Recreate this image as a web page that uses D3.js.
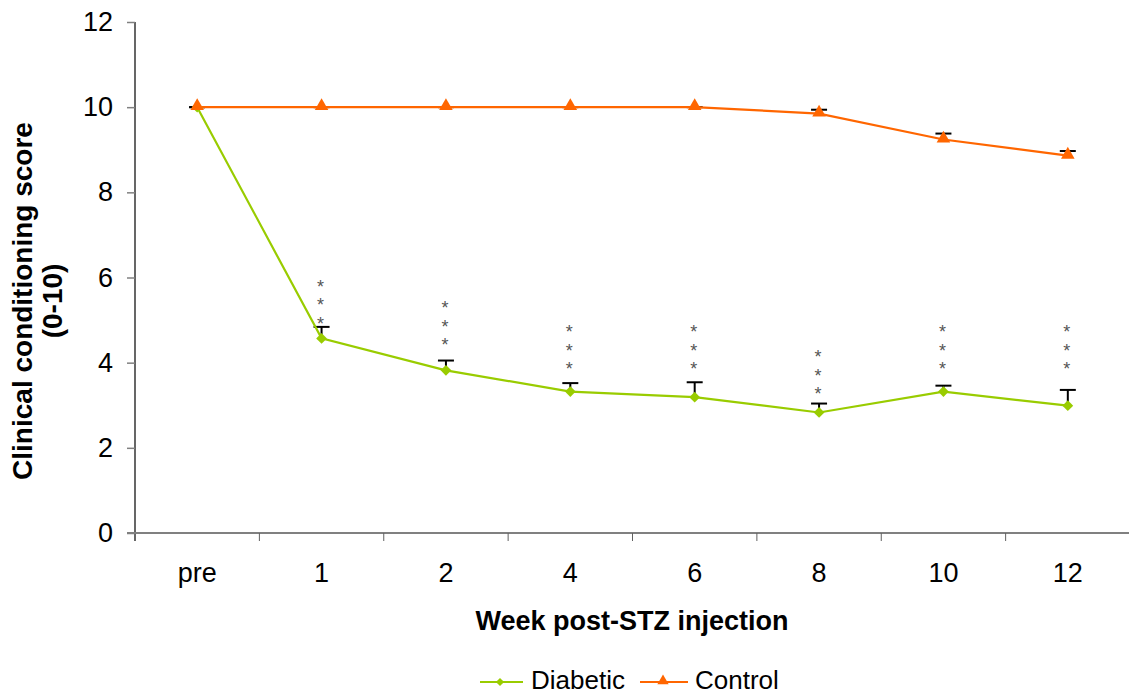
<!DOCTYPE html>
<html><head><meta charset="utf-8">
<script src="https://cdn.jsdelivr.net/npm/d3@7"></script>
<style>body{margin:0;background:#fff}svg{display:block;font-family:"Liberation Sans",Arial,sans-serif}</style>
</head><body><svg id="c" width="1129" height="695"></svg>
<script>
const categories = ["pre","1","2","4","6","8","10","12"];
const diabetic = [10, 4.57, 3.82, 3.32, 3.19, 2.83, 3.32, 2.99];
const diabeticErrTop = [10, 4.84, 4.05, 3.52, 3.54, 3.04, 3.46, 3.36];
const control = [10, 10, 10, 10, 10, 9.85, 9.24, 8.86];
const controlErrTop = [10, 10, 10, 10, 10, 9.94, 9.38, 8.97];
const starBase = [null, 5.02, 4.51, 3.95, 3.95, 3.36, 3.95, 3.95];
const yTicks = [0, 2, 4, 6, 8, 10, 12];

const green = "#99CC00", orange = "#FF6600";
const svg = d3.select("#c");
const L = 135, R = 1130, T = 22, B = 533;
const x = d3.scaleBand().domain(categories).range([L, R]).paddingInner(0).paddingOuter(0);
const y = d3.scaleLinear().domain([0, 12]).range([B, T]);
const cx = c => x(c) + x.bandwidth() / 2;

// Y axis
const ya = svg.append("g").attr("transform", `translate(${L},0)`)
  .call(d3.axisLeft(y).tickValues(yTicks).tickSize(8).tickPadding(14).tickFormat(d3.format("d")));
ya.attr("font-size", 27).attr("font-family", null);
ya.select(".domain").attr("stroke", "#000").attr("stroke-width", 1.2).attr("d", `M0,${T}V${B+8}`);
ya.selectAll(".tick line").attr("stroke", "#808080").attr("stroke-width", 1.5);
ya.selectAll(".tick text").attr("fill", "#000");

// X axis
const xa = svg.append("g").attr("transform", `translate(0,${B})`)
  .call(d3.axisBottom(x).tickSize(0).tickPadding(30));
xa.attr("font-size", 27).attr("font-family", null);
xa.select(".domain").attr("stroke", "#808080").attr("stroke-width", 2.2).attr("d", `M${L-8},0H${R}`);
xa.selectAll(".tick text").attr("fill", "#000");
svg.append("g").selectAll("line").data(categories.slice(1)).join("line")
  .attr("x1", d => x(d)).attr("x2", d => x(d)).attr("y1", B).attr("y2", B + 8)
  .attr("stroke", "#606060").attr("stroke-width", 1);

// Axis titles
svg.append("text").attr("x", 632).attr("y", 630).attr("text-anchor", "middle")
  .attr("font-size", 27).attr("font-weight", "bold").text("Week post-STZ injection");
const yt = svg.append("text").attr("transform", "translate(0,301) rotate(-90)").attr("text-anchor", "middle")
  .attr("font-size", 28).attr("font-weight", "bold");
yt.append("tspan").attr("x", 0).attr("y", 32).text("Clinical conditioning score");
yt.append("tspan").attr("x", 0).attr("y", 62).text("(0-10)");

// Error bars
function errBars(vals, tops, cls) {
  const g = svg.append("g").attr("class", cls);
  categories.forEach((c, i) => {
    g.append("line").attr("x1", cx(c)).attr("x2", cx(c)).attr("y1", y(vals[i])).attr("y2", y(tops[i]))
      .attr("stroke", "#000").attr("stroke-width", 2);
    g.append("line").attr("x1", cx(c) - 8).attr("x2", cx(c) + 8).attr("y1", y(tops[i])).attr("y2", y(tops[i]))
      .attr("stroke", "#000").attr("stroke-width", 2);
  });
}
errBars(diabetic, diabeticErrTop, "ed");
errBars(control, controlErrTop, "ec");

const line = d3.line().x((d, i) => cx(categories[i])).y(d => y(d));
svg.append("path").datum(diabetic).attr("d", line).attr("fill", "none").attr("stroke", green).attr("stroke-width", 2.2);
svg.append("path").datum(control).attr("d", line).attr("fill", "none").attr("stroke", orange).attr("stroke-width", 2.2);

// markers
const diamond = d3.symbol().type(d3.symbolSquare).size(58);
const tri = d3.symbol().type(d3.symbolTriangle).size(80);
svg.append("g").selectAll("path").data(diabetic).join("path")
  .attr("d", diamond).attr("transform", (d, i) => `translate(${cx(categories[i])},${y(d)}) rotate(45)`).attr("fill", green);
svg.append("g").selectAll("path").data(control).join("path")
  .attr("d", tri).attr("transform", (d, i) => `translate(${cx(categories[i])},${y(d) - 1})`).attr("fill", orange);

// significance asterisks
const sg = svg.append("g").attr("fill", "#555").attr("font-size", 18).attr("text-anchor", "middle");
starBase.forEach((v, i) => {
  if (v == null) return;
  for (let k = 0; k < 3; k++) {
    sg.append("text").attr("x", cx(categories[i]) - 1).attr("y", y(v) - k * 18.5 + 10.5).text("*");
  }
});

// Legend
const lg = svg.append("g").attr("font-size", 26);
lg.append("line").attr("x1", 480).attr("x2", 523).attr("y1", 682).attr("y2", 682).attr("stroke", green).attr("stroke-width", 2.2);
lg.append("path").attr("d", d3.symbol().type(d3.symbolSquare).size(34)).attr("transform", "translate(500,682) rotate(45)").attr("fill", green);
lg.append("text").attr("x", 531).attr("y", 689).text("Diabetic");
lg.append("line").attr("x1", 640).attr("x2", 688).attr("y1", 682).attr("y2", 682).attr("stroke", orange).attr("stroke-width", 2.2);
lg.append("path").attr("d", d3.symbol().type(d3.symbolTriangle).size(55)).attr("transform", "translate(663,681)").attr("fill", orange);
lg.append("text").attr("x", 695).attr("y", 689).text("Control");
</script></body></html>
